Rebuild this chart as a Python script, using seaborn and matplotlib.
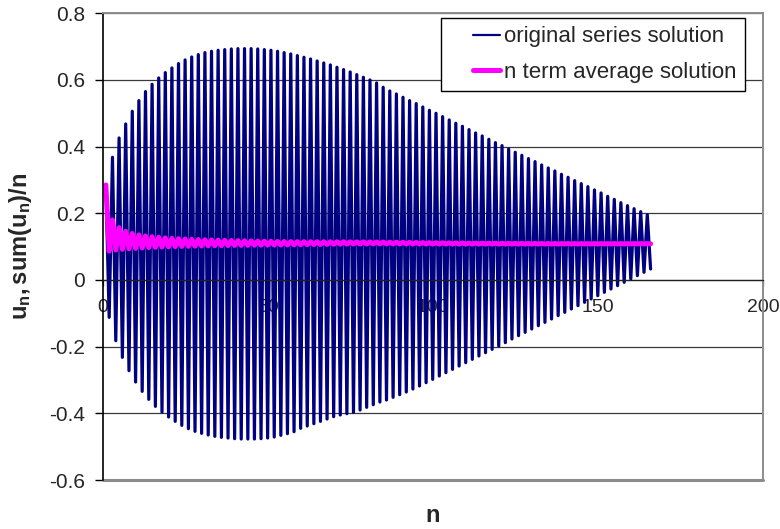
import numpy as np
import pandas as pd
import matplotlib
matplotlib.use("Agg")
import matplotlib.pyplot as plt
from matplotlib.lines import Line2D
from matplotlib.legend_handler import HandlerLine2D
import seaborn as sns

# ---------------- data ----------------
# u_n at odd n = 1, 3, ..., 165 (upper swings)
u_odd = [0.285, 0.368, 0.426, 0.468, 0.506, 0.538, 0.565, 0.587, 0.606, 0.622,
         0.636, 0.649, 0.660, 0.669, 0.676, 0.682, 0.686, 0.689, 0.691, 0.693,
         0.694, 0.694, 0.694, 0.693, 0.691, 0.689, 0.686, 0.682, 0.678, 0.673,
         0.668, 0.663, 0.657, 0.651, 0.645, 0.638, 0.631, 0.624, 0.616, 0.608,
         0.600, 0.591, 0.578, 0.567, 0.558, 0.548, 0.538, 0.529, 0.519, 0.509,
         0.500, 0.490, 0.480, 0.470, 0.461, 0.451, 0.441, 0.432, 0.422, 0.412,
         0.403, 0.393, 0.383, 0.374, 0.364, 0.355, 0.345, 0.336, 0.327, 0.317,
         0.308, 0.298, 0.289, 0.280, 0.270, 0.261, 0.251, 0.242, 0.232, 0.223,
         0.214, 0.205, 0.196]
# u_n at even n = 2, 4, ..., 166 (lower swings)
u_even = [-0.112, -0.182, -0.232, -0.272, -0.306, -0.334, -0.358, -0.379, -0.396, -0.411,
          -0.424, -0.436, -0.446, -0.454, -0.460, -0.465, -0.469, -0.472, -0.474, -0.476,
          -0.477, -0.477, -0.477, -0.476, -0.474, -0.471, -0.466, -0.461, -0.455, -0.445,
          -0.438, -0.431, -0.424, -0.417, -0.410, -0.405, -0.401, -0.397, -0.390, -0.382,
          -0.374, -0.366, -0.360, -0.352, -0.344, -0.336, -0.327, -0.318, -0.308, -0.298,
          -0.288, -0.278, -0.268, -0.258, -0.248, -0.238, -0.228, -0.218, -0.208, -0.198,
          -0.188, -0.177, -0.167, -0.157, -0.147, -0.137, -0.127, -0.117, -0.107, -0.097,
          -0.087, -0.077, -0.067, -0.057, -0.047, -0.037, -0.027, -0.017, -0.007, 0.003,
          0.013, 0.023, 0.033]

series_names = ["original series solution", "n term average solution"]
x_ticks = [0, 50, 100, 150, 200]
y_ticks = [-0.6, -0.4, -0.2, 0.0, 0.2, 0.4, 0.6, 0.8]
y_tick_labels = ["-0.6", "-0.4", "-0.2", "0", "0.2", "0.4", "0.6", "0.8"]
x_title = "n"
y_title = r"$\mathbf{u_n,sum(u_n)/n}$"

# ---------------- assemble ----------------
n_terms = len(u_odd) + len(u_even)
n = np.arange(1, n_terms + 1)
u = np.empty(n_terms)
u[0::2] = u_odd
u[1::2] = u_even
avg = np.cumsum(u) / n
df = pd.DataFrame({"n": n, "u": u, "avg": avg})

# ---------------- style ----------------
sns.set_style("white")
plt.rcParams["font.family"] = ["Liberation Sans", "DejaVu Sans"]
plt.rcParams["axes.unicode_minus"] = False
plt.rcParams["mathtext.fontset"] = "custom"
plt.rcParams["mathtext.rm"] = "Liberation Sans"
plt.rcParams["mathtext.it"] = "Liberation Sans:italic"
plt.rcParams["mathtext.bf"] = "Liberation Sans:bold"

fig = plt.figure(figsize=(7.8, 5.29), dpi=100)
ax = fig.add_axes([0.1315, 0.0926, 0.8465, 0.8823])

sns.lineplot(data=df, x="n", y="u", ax=ax, color="#000080", linewidth=2.3,
             label=series_names[0], legend=False)
sns.lineplot(data=df, x="n", y="avg", ax=ax, color="#FF00FF", linewidth=3.6,
             label=series_names[1], legend=False)

ax.set_xlim(0, 200)
ax.set_ylim(-0.6, 0.8)
ax.set_xticks(x_ticks)
ax.set_xticklabels([str(t) for t in x_ticks])
ax.set_yticks(y_ticks)
ax.set_yticklabels(y_tick_labels)

ax.set_axisbelow(True)
ax.yaxis.grid(True, color="#3a3a3a", linewidth=0.9)
ax.xaxis.grid(False)

# spines: Excel style - x axis crosses at 0, grey plot-area frame
ax.spines["bottom"].set_position(("data", 0))
ax.spines["bottom"].set_color("#202020")
ax.spines["bottom"].set_linewidth(0.9)
ax.spines["left"].set_color("#000000")
ax.spines["left"].set_linewidth(1.2)
for s in ["top", "right"]:
    ax.spines[s].set_color("#8c8c8c")
    ax.spines[s].set_linewidth(1.4)
ax.axhline(-0.6, color="#8c8c8c", linewidth=2.2, clip_on=False, zorder=0.6)

ax.tick_params(axis="y", direction="out", length=5.5, width=1, color="#000000",
               pad=7, labelsize=15, left=True)
ax.tick_params(axis="x", direction="out", length=4, width=0.9, color="#202020",
               pad=10, labelsize=14, bottom=True)

ax.set_xlabel(x_title, fontsize=17, fontweight="bold", va="center")
ax.xaxis.set_label_coords(0.5, -0.077)
ax.set_ylabel(y_title, fontsize=17, va="center")
ax.yaxis.set_label_coords(-0.124, 0.5)

handles, labels = ax.get_legend_handles_labels()
leg = ax.legend(handles, labels, loc="upper right", bbox_to_anchor=(0.9725, 0.9893),
                borderaxespad=0, fontsize=16, frameon=True, fancybox=False,
                edgecolor="#000000", framealpha=1, borderpad=0.37,
                labelspacing=0.65, handlelength=2.3, handletextpad=0.18,
                handler_map={Line2D: HandlerLine2D(xpad=1.1)})
leg.get_frame().set_linewidth(1.0)
leg.get_lines()[0].set_linewidth(1.6)

fig.savefig("out.png", dpi=100)
